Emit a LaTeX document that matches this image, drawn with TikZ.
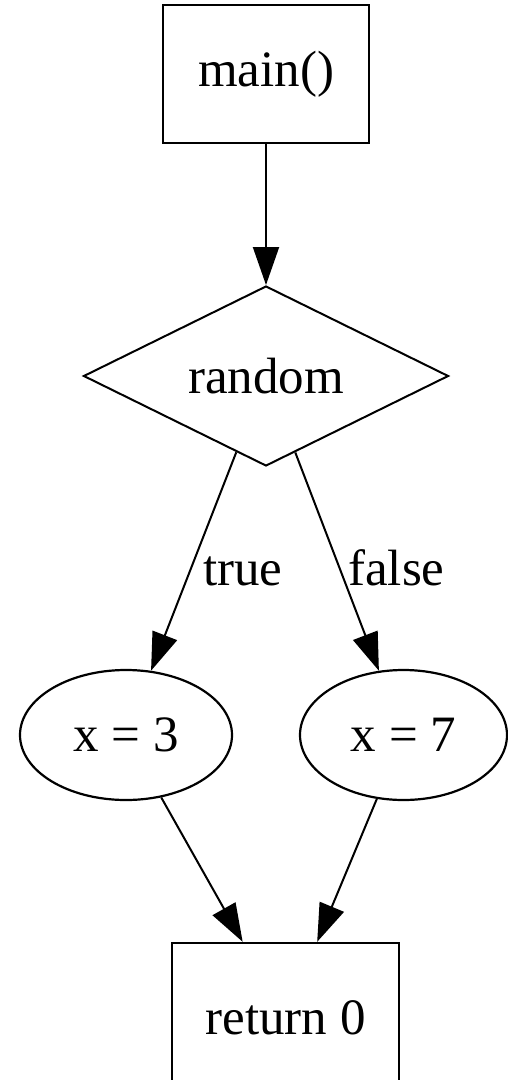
\documentclass[tikz,border=0pt]{standalone}
\usepackage{fontspec}
\setmainfont{Liberation Serif}
\usetikzlibrary{shapes.geometric,arrows.meta}
\begin{document}
\begin{tikzpicture}[x=1pt,y=-1pt,
  every node/.style={font=\fontsize{51}{60}\selectfont, inner sep=0pt},
  boxnode/.style={draw, line width=2.4pt, rectangle},
  decnode/.style={draw, line width=2pt, diamond, aspect=2},
  ellnode/.style={draw, line width=2.2pt, ellipse},
  edge/.style={draw, line width=2pt, -{Triangle[length=38pt,width=26pt]}},
  lbl/.style={anchor=base west}]
\useasboundingbox (0,0) rectangle (508,1080);
\clip (0,0) rectangle (508,1080);
\node[boxnode, minimum width=206pt, minimum height=138pt] (main) at (266,74) {main()};
\node[decnode, minimum width=365pt, minimum height=180pt] (rand) at (266,376) {random};
\node[ellnode, minimum width=212pt, minimum height=130pt] (x3) at (126,735) {x = 3};
\node[ellnode, minimum width=207pt, minimum height=130pt] (x7) at (403.5,735) {x = 7};
\node[boxnode, minimum width=227pt, minimum height=150pt] (ret) at (285.5,1018) {return 0};
\draw[edge] (main) -- (rand);
\draw[edge] (rand) -- (x3);
\draw[edge] (rand) -- (x7);
\draw[edge] (x3) -- (ret);
\draw[edge] (x7) -- (ret);
\node[lbl] (ltrue) at (203,585) {true};
\node[lbl] (lfalse) at (348,585) {false};
\end{tikzpicture}
\end{document}
